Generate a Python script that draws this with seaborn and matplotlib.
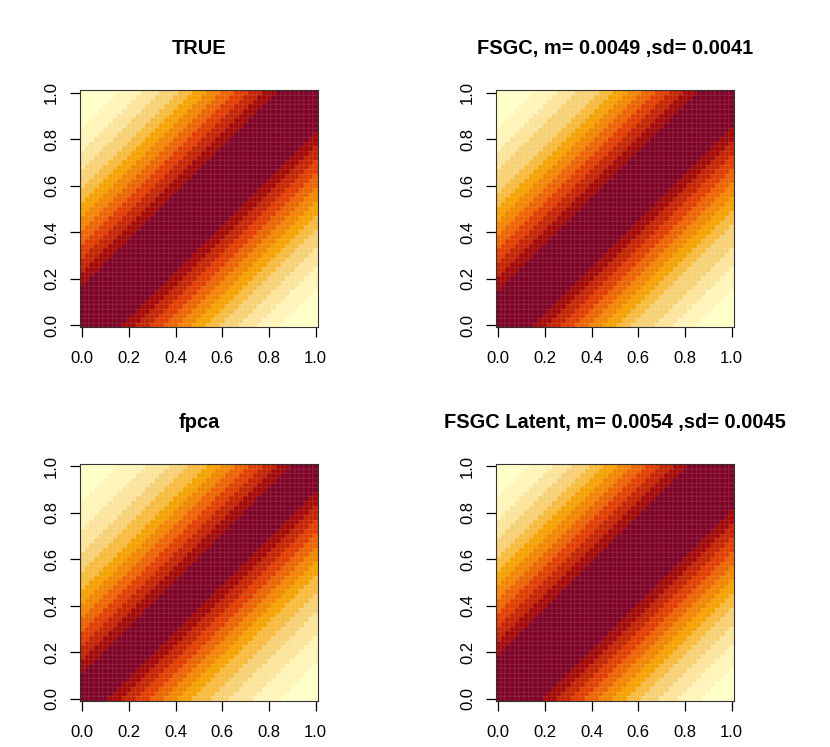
import numpy as np
import matplotlib
matplotlib.use("Agg")
import matplotlib.pyplot as plt
from matplotlib.colors import ListedColormap
import seaborn as sns

# grid 0..1 in steps of 0.02 (51 cells per side)
n_grid = 51
tick_values = [0.0, 0.2, 0.4, 0.6, 0.8, 1.0]
tick_labels = ["0.0", "0.2", "0.4", "0.6", "0.8", "1.0"]

titles = ["TRUE", "FSGC, m= 0.0049 ,sd= 0.0041",
          "fpca", "FSGC Latent, m= 0.0054 ,sd= 0.0045"]

# number of grid cells (lag from the diagonal) in each colour band,
# darkest band first (level 11) down to the palest (level 0)
true_widths = [9, 3, 3, 3, 3, 3, 3, 3, 4, 4, 5, 8]
fsgc_widths = [8, 3, 3, 3, 3, 3, 3, 3, 5, 4, 5, 8]
fpca_widths = [6, 3, 3, 3, 3, 3, 3, 4, 4, 5, 6, 8]
latent_widths = [10, 3, 3, 3, 3, 3, 3, 3, 4, 4, 5, 7]


def hcl_ylorrd(n):
    # R hcl.colors(n, "YlOrRd"), dark first
    h1, h2, c1, c2, cmax, l1, l2, p1, p2 = 5, 85, 75, 40, 180, 25, 99, 1.6, 1.3
    i = np.linspace(1, 0, n)
    H = h2 - (h2 - h1) * i
    L = l2 - (l2 - l1) * i ** p2
    j = 1 / (1 + abs(cmax - c1) / abs(cmax - c2))
    ip = i ** p1
    C = np.where(ip <= j, c2 - (c2 - cmax) * ip / j, cmax - (cmax - c1) * (ip - j) / (1 - j))
    U = C * np.cos(np.radians(H))
    V = C * np.sin(np.radians(H))
    Xn, Yn, Zn = 95.047, 100.0, 108.883
    Y = np.where(L > 8, Yn * ((L + 16) / 116) ** 3, Yn * L / 903.3)
    t = Xn + Yn + Zn
    x, y = Xn / t, Yn / t
    uN = 2 * x / (6 * y - x + 1.5)
    vN = 4.5 * y / (6 * y - x + 1.5)
    u = U / (13 * L) + uN
    v = V / (13 * L) + vN
    X = 9.0 * Y * u / (4 * v)
    Z = -X / 3 - 5 * Y + 3 * Y / v
    M = np.array([[3.240479, -1.537150, -0.498535],
                  [-0.969256, 1.875992, 0.041556],
                  [0.055648, -0.204043, 1.057311]])
    rgb = (M @ np.vstack([X, Y, Z]) / 100).T
    rgb = np.where(rgb <= 0.0031308, 12.92 * rgb, 1.055 * np.clip(rgb, 0, None) ** (1 / 2.4) - 0.055)
    return np.clip(rgb, 0, 1)


cmap = ListedColormap(hcl_ylorrd(12)[::-1])


def surface(widths):
    profile = np.repeat(np.arange(11, -1, -1), widths)
    idx = np.arange(n_grid)
    return profile[np.abs(idx[:, None] - idx[None, :])]


panels = [surface(true_widths), surface(fsgc_widths),
          surface(fpca_widths), surface(latent_widths)]

plt.rcParams['font.family'] = ['Liberation Sans', 'DejaVu Sans']

fig = plt.figure(figsize=(8.3, 7.47), dpi=100)
lefts = [0.0964, 0.5976, 0.0964, 0.5976]
bottoms = [0.5616, 0.5616, 0.0616, 0.0616]

for k in range(4):
    ax = fig.add_axes([lefts[k], bottoms[k], 0.2867, 0.3173])
    sns.heatmap(panels[k], ax=ax, cmap=cmap, vmin=-0.5, vmax=11.5, cbar=False,
                xticklabels=False, yticklabels=False,
                linewidths=0.2, linecolor=(1, 1, 1, 0.05))
    ax.set_xlim(0, n_grid)
    ax.set_ylim(0, n_grid)
    pos = [0.5 + v * (n_grid - 1) for v in tick_values]
    ax.set_xticks(pos)
    ax.set_xticklabels(tick_labels)
    ax.set_yticks(pos)
    ax.set_yticklabels(tick_labels, rotation=90, va='center')
    ax.tick_params(direction='out', length=7, width=0.9, labelsize=12,
                   colors='black')
    ax.tick_params(axis='x', pad=10)
    ax.tick_params(axis='y', pad=8)
    for s in ax.spines.values():
        s.set_visible(True)
        s.set_color('#333333')
        s.set_linewidth(0.8)
    ax.set_title(titles[k], fontsize=14.4, fontweight='bold', pad=26)

fig.savefig("out.png", dpi=100)
